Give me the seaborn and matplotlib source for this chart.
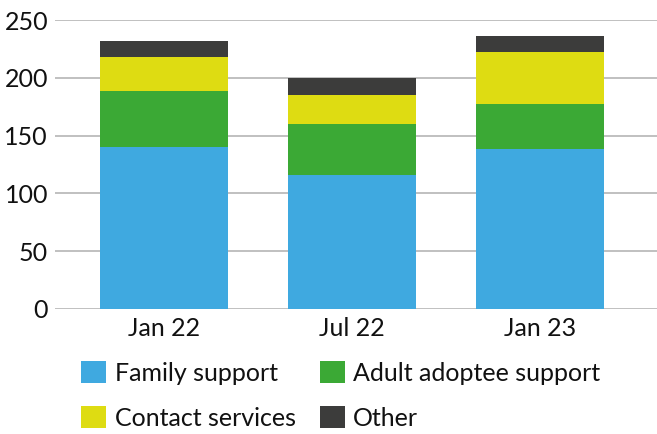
import matplotlib
matplotlib.use("Agg")
import matplotlib.pyplot as plt
import numpy as np
import pandas as pd
import seaborn as sns
from matplotlib.patches import Patch

# Données
periods = ["Jan 22", "Jul 22", "Jan 23"]
family_support = [140, 116, 138]
adult_adoptee_support = [49, 44, 39]
contact_services = [29, 25, 45]
other = [14, 15, 14]

series_names = ["Family support", "Adult adoptee support", "Contact services", "Other"]
series_values = [family_support, adult_adoptee_support, contact_services, other]
colors = ["#3FA9E0", "#3BA935", "#DEDC12", "#3C3C3B"]
y_ticks = [0, 50, 100, 150, 200, 250]

sns.set_theme(style="white")
plt.rcParams["font.family"] = ["Lato", "DejaVu Sans"]

fig = plt.figure(figsize=(6.57, 4.34), dpi=100)
ax = fig.add_axes([55 / 657, 1 - 309 / 434, 602 / 657, 289 / 434])

# Empilement : on trace les cumuls du plus haut au plus bas
cumul = np.cumsum(np.array(series_values), axis=0)
for i in range(len(series_names) - 1, -1, -1):
    df = pd.DataFrame({"period": periods, "value": cumul[i]})
    sns.barplot(data=df, x="period", y="value", color=colors[i],
                width=0.68, saturation=1, ax=ax, zorder=3,
                edgecolor="none", linewidth=0)

ax.set_xlim(-0.58, 2.62)
ax.set_ylim(0, 250)
ax.set_yticks(y_ticks)
ax.set_xlabel("")
ax.set_ylabel("")
ax.grid(axis="y", color="#B5B5B5", linewidth=1.2, zorder=0)
ax.grid(axis="x", visible=False)
for s in ax.spines.values():
    s.set_visible(False)
ax.tick_params(axis="both", length=0, labelsize=18, labelcolor="#111111")
ax.tick_params(axis="y", pad=5)
ax.tick_params(axis="x", pad=6)

# Légende remplie ligne par ligne (ordre des colonnes de matplotlib)
order = [0, 2, 1, 3]
handles = [Patch(facecolor=colors[k], edgecolor="none") for k in order]
labels = [series_names[k] for k in order]
fig.legend(handles, labels, loc="upper left", bbox_to_anchor=(71 / 657, 1 - 351 / 434),
           ncol=2, frameon=False, fontsize=18, handlelength=1.0, handleheight=1.0,
           handletextpad=0.35, columnspacing=0.95, labelspacing=0.85, borderaxespad=0,
           labelcolor="#111111")

fig.savefig("out.png", dpi=100)
